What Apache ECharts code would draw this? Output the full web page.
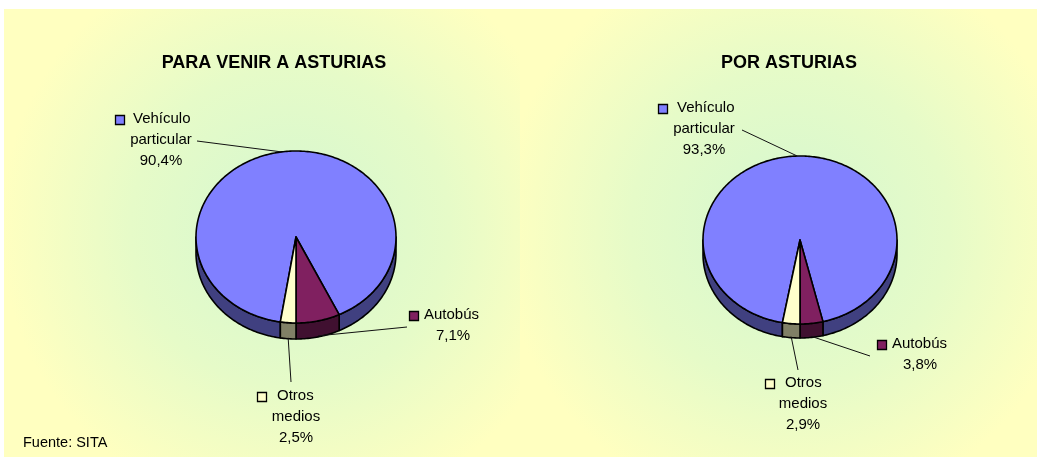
<!DOCTYPE html>
<html>
<head>
<meta charset="utf-8">
<script src="https://cdn.jsdelivr.net/npm/echarts@6/dist/echarts.min.js"></script>
<style>
  html, body { margin: 0; padding: 0; background: #fff; }
  #chart { width: 1037px; height: 457px; }
</style>
</head>
<body>
<div id="chart"></div>
<script>
// data
const categories = ['Vehículo particular', 'Autobús', 'Otros medios'];
const valuesVenir = [90.4, 7.1, 2.5];
const valuesPor = [93.3, 3.8, 2.9];
const titles = ['PARA VENIR A ASTURIAS', 'POR ASTURIAS'];
const sourceNote = 'Fuente: SITA';

const TOP_COLORS = ['#8080ff', '#802060', '#ffffcc'];
const SIDE_COLORS = ['#404080', '#401030', '#808066'];
const FONT = '"Liberation Sans", Arial, sans-serif';

// layout of each pie (pixels)
const PIES = [
  {
    values: valuesVenir, cx: 296, cy: 237, rx: 100, ry: 86, depth: 16, titleX: 274,
    labels: [
      { kx: 115, ky: 115, tx: 133, mx: 161, y0: 119, lead: [197, 141] },
      { kx: 409, ky: 311, tx: 424, mx: 453, y0: 315, lead: [407, 327] },
      { kx: 257, ky: 392, tx: 277, mx: 296, y0: 396, lead: [291, 382] },
    ],
  },
  {
    values: valuesPor, cx: 800, cy: 240, rx: 97, ry: 84, depth: 14, titleX: 789,
    labels: [
      { kx: 658, ky: 104, tx: 677, mx: 704, y0: 108, lead: [742, 130] },
      { kx: 877, ky: 340, tx: 892, mx: 920, y0: 344, lead: [870, 356] },
      { kx: 765, ky: 379, tx: 785, mx: 803, y0: 383, lead: [798, 370] },
    ],
  },
];
const LINE_H = 21;

// slices run clockwise; the Autobús / Otros border sits at 6 o'clock
function sliceAngles(values) {
  const total = values.reduce((a, b) => a + b, 0);
  let a = 180 + (values[2] / total) * 360;
  return values.map((v) => {
    const a0 = a;
    a += (v / total) * 360;
    return [v, a0, a];
  });
}

function pt(p, deg, dy) {
  const r = (deg * Math.PI) / 180;
  return [p.cx + p.rx * Math.sin(r), p.cy - p.ry * Math.cos(r) + (dy || 0)];
}

function arc(p, a0, a1, dy) {
  const pts = [];
  const n = Math.max(2, Math.ceil(Math.abs(a1 - a0)));
  for (let k = 0; k <= n; k++) pts.push(pt(p, a0 + ((a1 - a0) * k) / n, dy));
  return pts;
}

function fmt(v) {
  return v.toFixed(1).replace('.', ',') + '%';
}

function makeRender(p) {
  return function (params, api) {
    const i = params.dataIndex;
    const v = api.value(0), a0 = api.value(1), a1 = api.value(2);
    const children = [];
    const stroke = { stroke: '#000', lineWidth: 1.6, lineJoin: 'round' };

    // front side wall (visible between 3 and 9 o'clock)
    [[90, 270], [450, 630]].forEach(([s, e]) => {
      const from = Math.max(a0, s), to = Math.min(a1, e);
      if (to > from) {
        const pts = arc(p, from, to, 0).concat(arc(p, to, from, p.depth));
        children.push({
          type: 'polygon', z2: 1,
          shape: { points: pts },
          style: Object.assign({ fill: SIDE_COLORS[i] }, stroke),
        });
      }
    });

    // top face
    children.push({
      type: 'polygon', z2: 2,
      shape: { points: [[p.cx, p.cy]].concat(arc(p, a0, a1, 0)) },
      style: Object.assign({ fill: TOP_COLORS[i] }, stroke),
    });

    // leader line to the slice middle
    const mid = (a0 + a1) / 2;
    const front = Math.cos((mid * Math.PI) / 180) < 0;
    const end = pt(p, mid, front ? p.depth - 1 : 0);
    const L = p.labels[i];
    children.push({
      type: 'line', z2: 3,
      shape: { x1: L.lead[0], y1: L.lead[1], x2: end[0], y2: end[1] },
      style: { stroke: '#111', lineWidth: 1 },
    });

    // legend key + label text
    children.push({
      type: 'rect', z2: 3,
      shape: { x: L.kx + 0.5, y: L.ky + 0.5, width: 9, height: 9 },
      style: { fill: TOP_COLORS[i], stroke: '#000', lineWidth: 1.3 },
    });
    const words = categories[i].split(' ');
    const lines = words.concat([fmt(v)]);
    lines.forEach((t, k) => {
      children.push({
        type: 'text', z2: 3,
        style: {
          text: t,
          x: k === 0 ? L.tx : L.mx,
          y: L.y0 + k * LINE_H,
          align: k === 0 ? 'left' : 'center',
          verticalAlign: 'middle',
          fill: '#000',
          font: '15px ' + FONT,
        },
      });
    });

    return { type: 'group', children };
  };
}

const chart = echarts.init(document.getElementById('chart'), null, { renderer: 'canvas' });

const glow = (x, y) => new echarts.graphic.RadialGradient(x, y, 290, [
  { offset: 0, color: '#d4f7d0' }, { offset: 0.55, color: '#e6fbc8' }, { offset: 1, color: '#ffffc0' },
], true);

const background = [
  { type: 'rect', z: -10, shape: { x: 4, y: 9, width: 1033, height: 448 }, style: { fill: '#ffffc0' } },
  { type: 'rect', z: -9, shape: { x: 4, y: 9, width: 516, height: 448 }, style: { fill: glow(290, 228) } },
  { type: 'rect', z: -9, shape: { x: 520, y: 9, width: 517, height: 448 }, style: { fill: glow(790, 228) } },
];

const texts = PIES.map((p, k) => ({
  type: 'text', z: 5,
  style: {
    text: titles[k], x: p.titleX, y: 63, align: 'center', verticalAlign: 'middle',
    fill: '#000', font: 'bold 18px ' + FONT,
  },
}));
texts.push({
  type: 'text', z: 5,
  style: { text: sourceNote, x: 23, y: 443, align: 'left', verticalAlign: 'middle', fill: '#000', font: '14.5px ' + FONT },
});

chart.setOption({
  animation: false,
  graphic: background.concat(texts),
  series: PIES.map((p) => ({
    type: 'custom',
    coordinateSystem: 'none',
    silent: true,
    renderItem: makeRender(p),
    data: sliceAngles(p.values),
  })),
});
</script>
</body>
</html>
